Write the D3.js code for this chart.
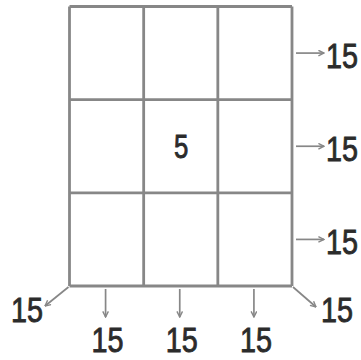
<!DOCTYPE html>
<html lang="en">
<head>
  <meta charset="UTF-8">
  <title>Magic square</title>
  <style>
    body { margin: 0; background: #fff; }
    text { font-family: "Liberation Sans", Arial, sans-serif; fill: #2b2b2b; stroke: #2b2b2b; stroke-width: 0.9; }
  </style>
</head>
<body>
  <svg width="361" height="360"></svg>
  <script src="https://d3js.org/d3.v7.min.js"></script>
  <script>
    // cell values, row by row ('' = empty)
    const cells = [
      ['', '', ''],
      ['', '5', ''],
      ['', '', '']
    ];
    const rowSums = [15, 15, 15];
    const colSums = [15, 15, 15];
    const diagSums = [15, 15]; // bottom-left, bottom-right

    const svg = d3.select('svg');
    const gray = '#878787';

    const x = d3.scaleBand().domain([0, 1, 2]).range([69.5, 292]);
    const y = d3.scaleBand().domain([0, 1, 2]).range([6.5, 286]);

    const defs = svg.append('defs');
    defs.append('marker')
      .attr('id', 'head')
      .attr('viewBox', '0 0 10 10')
      .attr('refX', 9).attr('refY', 5)
      .attr('markerWidth', 7).attr('markerHeight', 7)
      .attr('markerUnits', 'userSpaceOnUse')
      .attr('orient', 'auto')
      .append('path')
      .attr('d', 'M1,1 L9,5 L1,9')
      .attr('fill', 'none')
      .attr('stroke', gray)
      .attr('stroke-width', 2);

    // grid lines
    const grid = svg.append('g').attr('stroke', gray).attr('stroke-width', 2.8);
    const xs = [0, 1, 2].map(d => x(d)).concat([x.range()[1]]);
    const ys = [0, 1, 2].map(d => y(d)).concat([y.range()[1]]);
    grid.selectAll('.v').data(xs).join('line')
      .attr('x1', d => d).attr('x2', d => d)
      .attr('y1', ys[0]).attr('y2', ys[3]);
    grid.selectAll('.h').data(ys).join('line')
      .attr('y1', d => d).attr('y2', d => d)
      .attr('x1', xs[0]).attr('x2', xs[3]);

    const big = (sel, sx) => sel
      .attr('font-size', 36)
      .attr('transform', function () {
        const tx = +this.getAttribute('data-x'), ty = +this.getAttribute('data-y');
        return `translate(${tx},${ty}) scale(${sx || 0.8},1)`;
      });

    // cell numbers
    const flat = cells.flatMap((row, r) => row.map((v, c) => ({ r, c, v }))).filter(d => d.v !== '');
    svg.selectAll('.cell').data(flat).join('text')
      .attr('data-x', d => x(d.c) + x.bandwidth() / 2 + 0.5)
      .attr('data-y', d => y(d.r) + y.bandwidth() / 2 + 12)
      .attr('text-anchor', 'middle')
      .text(d => d.v)
      .call(big, 0.78)
      .attr('font-size', 33);

    const arrows = svg.append('g').attr('stroke', gray).attr('stroke-width', 1.7)
      .attr('fill', 'none');

    // row sums
    arrows.selectAll('.ra').data(rowSums).join('line')
      .attr('x1', 296).attr('x2', 324)
      .attr('y1', (d, i) => y(i) + y.bandwidth() / 2)
      .attr('y2', (d, i) => y(i) + y.bandwidth() / 2)
      .attr('marker-end', 'url(#head)');
    svg.selectAll('.rt').data(rowSums).join('text')
      .attr('data-x', 326)
      .attr('data-y', (d, i) => y(i) + y.bandwidth() / 2 + 15)
      .text(d => d)
      .call(big);

    // column sums
    arrows.selectAll('.ca').data(colSums).join('line')
      .attr('x1', (d, i) => x(i) + x.bandwidth() / 2 - 1)
      .attr('x2', (d, i) => x(i) + x.bandwidth() / 2 - 1)
      .attr('y1', 289).attr('y2', 317)
      .attr('marker-end', 'url(#head)');
    svg.selectAll('.ct').data(colSums).join('text')
      .attr('data-x', (d, i) => x(i) + x.bandwidth() / 2 + 1)
      .attr('data-y', 352)
      .attr('text-anchor', 'middle')
      .text(d => d)
      .call(big);

    // diagonal sums
    const diag = [
      { x1: x.range()[0] - 1, y1: 287, x2: 45, y2: 306, tx: 43, anchor: 'end' },
      { x1: x.range()[1] + 1, y1: 287, x2: 316, y2: 307, tx: 321, anchor: 'start' }
    ];
    arrows.selectAll('.da').data(diag).join('line')
      .attr('x1', d => d.x1).attr('y1', d => d.y1)
      .attr('x2', d => d.x2).attr('y2', d => d.y2)
      .attr('marker-end', 'url(#head)');
    svg.selectAll('.dt').data(diagSums).join('text')
      .attr('data-x', (d, i) => diag[i].tx)
      .attr('data-y', 322)
      .attr('text-anchor', (d, i) => diag[i].anchor)
      .text(d => d)
      .call(big);
  </script>
</body>
</html>
